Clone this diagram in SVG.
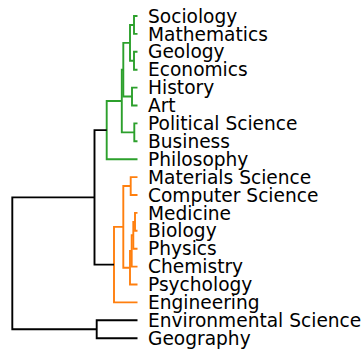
<svg xmlns="http://www.w3.org/2000/svg" width="364" height="351" viewBox="0 0 364 351">
<style>
.lbl{font-family:"DejaVu Sans",sans-serif;font-size:18.6px;fill:#000}
.g{fill:none;stroke:#2ca02c;stroke-width:1.9}
.o{fill:none;stroke:#ff7f0e;stroke-width:1.9}
.k{fill:none;stroke:#000;stroke-width:1.9}
</style>
<rect width="364" height="351" fill="#fff"/>
<g id="connectors">
<path class="g" d="M137.5 16H134V33.9H137.5"/>
<path class="g" d="M137.5 51.8H134V69.7H137.5"/>
<path class="g" d="M134 24.95H130V60.75H134"/>
<path class="g" d="M137.5 87.6H132V105.5H137.5"/>
<path class="g" d="M137.5 123.4H134.3V141.3H137.5"/>
<path class="g" d="M130 42.85H123.3V96.55H132"/>
<path class="g" d="M123.3 69.7H121.8V132.35H134.3"/>
<path class="g" d="M121.8 101H106.7V159.2H137.5"/>
<path class="o" d="M137.5 177.1H130.7V195H137.5"/>
<path class="o" d="M137.5 212.9H135V230.8H137.5"/>
<path class="o" d="M135 221.85H133.3V248.7H137.5"/>
<path class="o" d="M133.3 235.3H131.7V266.6H137.5"/>
<path class="o" d="M131.7 250.95H130V284.5H137.5"/>
<path class="o" d="M130.7 186.05H123.3V267.7H130"/>
<path class="o" d="M123.3 226.9H114V302.4H137.5"/>
<path class="k" d="M106.7 130.1H94.5V264.65H114"/>
<path class="k" d="M137.5 320.3H96.7V338.2H137.5"/>
<path class="k" d="M94.5 197.4H12.3V329.25H96.7"/>
</g>
<g id="n-sociology"><text class="lbl" x="148" y="22.6">Sociology</text></g>
<g id="n-mathematics"><text class="lbl" x="148" y="40.5">Mathematics</text></g>
<g id="n-geology"><text class="lbl" x="148" y="58.4">Geology</text></g>
<g id="n-economics"><text class="lbl" x="148" y="76.3">Economics</text></g>
<g id="n-history"><text class="lbl" x="148" y="94.2">History</text></g>
<g id="n-art"><text class="lbl" x="148" y="112.1">Art</text></g>
<g id="n-political-science"><text class="lbl" x="148" y="130">Political Science</text></g>
<g id="n-business"><text class="lbl" x="148" y="147.9">Business</text></g>
<g id="n-philosophy"><text class="lbl" x="148" y="165.8">Philosophy</text></g>
<g id="n-materials-science"><text class="lbl" x="148" y="183.7">Materials Science</text></g>
<g id="n-computer-science"><text class="lbl" x="148" y="201.6">Computer Science</text></g>
<g id="n-medicine"><text class="lbl" x="148" y="219.5">Medicine</text></g>
<g id="n-biology"><text class="lbl" x="148" y="237.4">Biology</text></g>
<g id="n-physics"><text class="lbl" x="148" y="255.3">Physics</text></g>
<g id="n-chemistry"><text class="lbl" x="148" y="273.2">Chemistry</text></g>
<g id="n-psychology"><text class="lbl" x="148" y="291.1">Psychology</text></g>
<g id="n-engineering"><text class="lbl" x="148" y="309">Engineering</text></g>
<g id="n-environmental-science"><text class="lbl" x="148" y="326.9">Environmental Science</text></g>
<g id="n-geography"><text class="lbl" x="148" y="344.8">Geography</text></g>
</svg>
